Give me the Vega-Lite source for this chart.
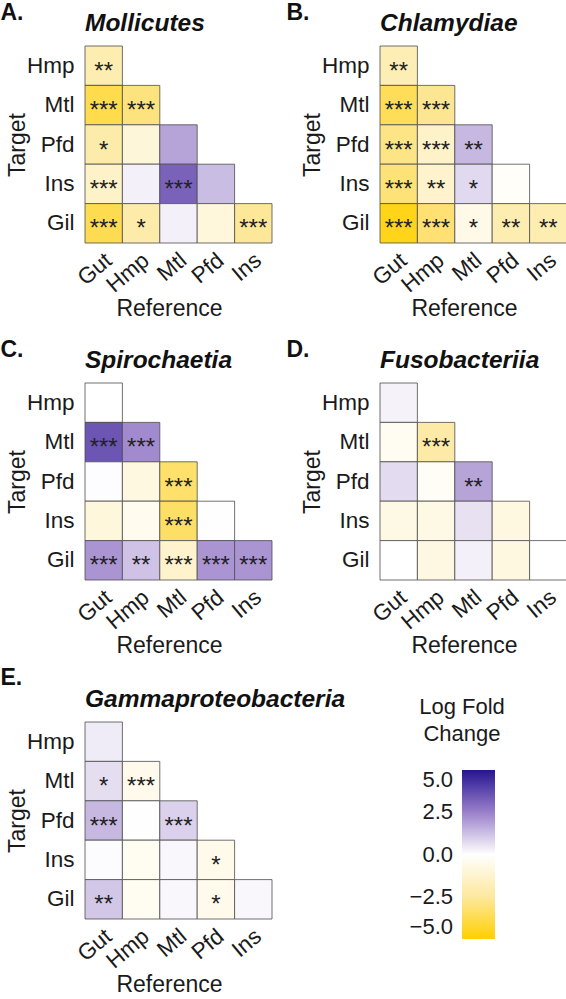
{
  "$schema": "https://vega.github.io/schema/vega-lite/v6.json",
  "background": "white",
  "padding": {"left": 0, "top": 2, "right": 0, "bottom": 0},
  "autosize": {"type": "pad"},
  "data": {"values": [
    {"p":"A","t":"Hmp","r":"Gut","v":-2.0,"s":"**"},
    {"p":"A","t":"Mtl","r":"Gut","v":-3.8,"s":"***"},
    {"p":"A","t":"Mtl","r":"Hmp","v":-3.0,"s":"***"},
    {"p":"A","t":"Pfd","r":"Gut","v":-2.2,"s":"*"},
    {"p":"A","t":"Pfd","r":"Hmp","v":-1.0,"s":""},
    {"p":"A","t":"Pfd","r":"Mtl","v":1.8,"s":""},
    {"p":"A","t":"Ins","r":"Gut","v":-1.4,"s":"***"},
    {"p":"A","t":"Ins","r":"Hmp","v":0.3,"s":""},
    {"p":"A","t":"Ins","r":"Mtl","v":3.2,"s":"***"},
    {"p":"A","t":"Ins","r":"Pfd","v":1.3,"s":""},
    {"p":"A","t":"Gil","r":"Gut","v":-3.7,"s":"***"},
    {"p":"A","t":"Gil","r":"Hmp","v":-2.2,"s":"*"},
    {"p":"A","t":"Gil","r":"Mtl","v":0.3,"s":""},
    {"p":"A","t":"Gil","r":"Pfd","v":-0.9,"s":""},
    {"p":"A","t":"Gil","r":"Ins","v":-2.6,"s":"***"},
    {"p":"B","t":"Hmp","r":"Gut","v":-1.9,"s":"**"},
    {"p":"B","t":"Mtl","r":"Gut","v":-3.6,"s":"***"},
    {"p":"B","t":"Mtl","r":"Hmp","v":-2.7,"s":"***"},
    {"p":"B","t":"Pfd","r":"Gut","v":-2.9,"s":"***"},
    {"p":"B","t":"Pfd","r":"Hmp","v":-1.4,"s":"***"},
    {"p":"B","t":"Pfd","r":"Mtl","v":1.4,"s":"**"},
    {"p":"B","t":"Ins","r":"Gut","v":-3.1,"s":"***"},
    {"p":"B","t":"Ins","r":"Hmp","v":-1.3,"s":"**"},
    {"p":"B","t":"Ins","r":"Mtl","v":0.75,"s":"*"},
    {"p":"B","t":"Ins","r":"Pfd","v":-0.15,"s":""},
    {"p":"B","t":"Gil","r":"Gut","v":-4.6,"s":"***"},
    {"p":"B","t":"Gil","r":"Hmp","v":-3.2,"s":"***"},
    {"p":"B","t":"Gil","r":"Mtl","v":-0.6,"s":"*"},
    {"p":"B","t":"Gil","r":"Pfd","v":-2.0,"s":"**"},
    {"p":"B","t":"Gil","r":"Ins","v":-2.0,"s":"**"},
    {"p":"C","t":"Hmp","r":"Gut","v":0.0,"s":""},
    {"p":"C","t":"Mtl","r":"Gut","v":3.5,"s":"***"},
    {"p":"C","t":"Mtl","r":"Hmp","v":2.3,"s":"***"},
    {"p":"C","t":"Pfd","r":"Gut","v":0.05,"s":""},
    {"p":"C","t":"Pfd","r":"Hmp","v":-0.8,"s":""},
    {"p":"C","t":"Pfd","r":"Mtl","v":-3.3,"s":"***"},
    {"p":"C","t":"Ins","r":"Gut","v":-0.9,"s":""},
    {"p":"C","t":"Ins","r":"Hmp","v":-0.4,"s":""},
    {"p":"C","t":"Ins","r":"Mtl","v":-3.4,"s":"***"},
    {"p":"C","t":"Ins","r":"Pfd","v":0.02,"s":""},
    {"p":"C","t":"Gil","r":"Gut","v":2.1,"s":"***"},
    {"p":"C","t":"Gil","r":"Hmp","v":1.2,"s":"**"},
    {"p":"C","t":"Gil","r":"Mtl","v":-1.3,"s":"***"},
    {"p":"C","t":"Gil","r":"Pfd","v":2.1,"s":"***"},
    {"p":"C","t":"Gil","r":"Ins","v":2.1,"s":"***"},
    {"p":"D","t":"Hmp","r":"Gut","v":0.25,"s":""},
    {"p":"D","t":"Mtl","r":"Gut","v":-0.35,"s":""},
    {"p":"D","t":"Mtl","r":"Hmp","v":-2.3,"s":"***"},
    {"p":"D","t":"Pfd","r":"Gut","v":0.7,"s":""},
    {"p":"D","t":"Pfd","r":"Hmp","v":-0.25,"s":""},
    {"p":"D","t":"Pfd","r":"Mtl","v":1.8,"s":"**"},
    {"p":"D","t":"Ins","r":"Gut","v":-0.7,"s":""},
    {"p":"D","t":"Ins","r":"Hmp","v":-0.7,"s":""},
    {"p":"D","t":"Ins","r":"Mtl","v":0.6,"s":""},
    {"p":"D","t":"Ins","r":"Pfd","v":-0.8,"s":""},
    {"p":"D","t":"Gil","r":"Gut","v":0.0,"s":""},
    {"p":"D","t":"Gil","r":"Hmp","v":-0.75,"s":""},
    {"p":"D","t":"Gil","r":"Mtl","v":0.3,"s":""},
    {"p":"D","t":"Gil","r":"Pfd","v":-0.8,"s":""},
    {"p":"D","t":"Gil","r":"Ins","v":0.0,"s":""},
    {"p":"E","t":"Hmp","r":"Gut","v":0.4,"s":""},
    {"p":"E","t":"Mtl","r":"Gut","v":0.65,"s":"*"},
    {"p":"E","t":"Mtl","r":"Hmp","v":-0.5,"s":"***"},
    {"p":"E","t":"Pfd","r":"Gut","v":1.4,"s":"***"},
    {"p":"E","t":"Pfd","r":"Hmp","v":0.02,"s":""},
    {"p":"E","t":"Pfd","r":"Mtl","v":0.9,"s":"***"},
    {"p":"E","t":"Ins","r":"Gut","v":0.08,"s":""},
    {"p":"E","t":"Ins","r":"Hmp","v":-0.35,"s":""},
    {"p":"E","t":"Ins","r":"Mtl","v":0.15,"s":""},
    {"p":"E","t":"Ins","r":"Pfd","v":-0.55,"s":"*"},
    {"p":"E","t":"Gil","r":"Gut","v":1.1,"s":"**"},
    {"p":"E","t":"Gil","r":"Hmp","v":-0.35,"s":""},
    {"p":"E","t":"Gil","r":"Mtl","v":0.15,"s":""},
    {"p":"E","t":"Gil","r":"Pfd","v":-0.5,"s":"*"},
    {"p":"E","t":"Gil","r":"Ins","v":0.15,"s":""}
  ]},
  "spacing": 9,
  "vconcat": [
  {
  "columns": 2,
  "spacing": {"row": 18, "column": 13},
  "concat": [
    {"title": {"text": "A.", "anchor": "start", "frame": "bounds", "dx": -6, "offset": -14, "fontSize": 23, "fontWeight": "bold"},
     "vconcat": [{
      "width": 187, "height": 197,
      "title": {"text": "Mollicutes", "anchor": "start", "frame": "group", "fontSize": 24.5, "fontStyle": "italic", "fontWeight": "bold", "offset": 9},
      "transform": [{"filter": "datum.p == 'A'"}],
      "encoding": {
        "x": {"field": "r", "type": "nominal", "scale": {"domain": ["Gut","Hmp","Mtl","Pfd","Ins"], "paddingInner": 0, "paddingOuter": 0}, "axis": {"title": "Reference", "labelAngle": -40, "labelAlign": "right", "labelBaseline": "middle", "labelPadding": 14, "labelOffset": 5, "titlePadding": 1, "titleX": 84}},
        "y": {"field": "t", "type": "nominal", "scale": {"domain": ["Hmp","Mtl","Pfd","Ins","Gil"], "paddingInner": 0, "paddingOuter": 0}, "axis": {"title": "Target", "labelPadding": 11, "titlePadding": -3}}
      },
      "layer": [
        {"mark": {"type": "rect", "stroke": "#4d4d4d", "strokeWidth": 0.8},
         "encoding": {"color": {"field": "v", "type": "quantitative", "scale": {"domain": [-5,-2.5,0,2.5,5], "range": ["#FFD000","#FDE89E","#FFFFFF","#9A80CA","#261591"], "interpolate": "rgb"},
           "legend": {"orient": "none", "legendX": 334, "legendY": 651, "direction": "vertical", "gradientLength": 169, "gradientThickness": 33, "values": [-5,-2.5,0,2.5,5], "format": ".1f", "labelOffset": -42, "labelFontSize": 22, "labelColor": "#1a1a1a", "labelOverlap": false, "title": ["Log Fold","Change"], "titleFontSize": 22, "titleFontWeight": "normal", "titleColor": "#1a1a1a", "titleAnchor": "middle", "titleAlign": "center", "titleLineHeight": 27, "titlePadding": 24, "gradientStrokeWidth": 0, "encode": {"labels": {"update": {"align": {"value": "right"}}}, "title": {"update": {"dx": {"value": -17}}}}}}}},
        {"mark": {"type": "text", "fontSize": 24, "baseline": "middle", "dy": 6, "color": "#222222"}, "encoding": {"text": {"field": "s"}}}
      ]
     }]
    },
    {"title": {"text": "B.", "anchor": "start", "frame": "bounds", "dx": -15, "offset": -14, "fontSize": 23, "fontWeight": "bold"},
     "vconcat": [{
      "width": 187, "height": 197,
      "title": {"text": "Chlamydiae", "anchor": "start", "frame": "group", "fontSize": 24.5, "fontStyle": "italic", "fontWeight": "bold", "offset": 9},
      "transform": [{"filter": "datum.p == 'B'"}],
      "encoding": {
        "x": {"field": "r", "type": "nominal", "scale": {"domain": ["Gut","Hmp","Mtl","Pfd","Ins"], "paddingInner": 0, "paddingOuter": 0}, "axis": {"title": "Reference", "labelAngle": -40, "labelAlign": "right", "labelBaseline": "middle", "labelPadding": 14, "labelOffset": 5, "titlePadding": 1, "titleX": 84}},
        "y": {"field": "t", "type": "nominal", "scale": {"domain": ["Hmp","Mtl","Pfd","Ins","Gil"], "paddingInner": 0, "paddingOuter": 0}, "axis": {"title": "Target", "labelPadding": 11, "titlePadding": -3}}
      },
      "layer": [
        {"mark": {"type": "rect", "stroke": "#4d4d4d", "strokeWidth": 0.8},
         "encoding": {"color": {"field": "v", "type": "quantitative", "scale": {"domain": [-5,-2.5,0,2.5,5], "range": ["#FFD000","#FDE89E","#FFFFFF","#9A80CA","#261591"], "interpolate": "rgb"},
           "legend": {"orient": "none", "legendX": 334, "legendY": 651, "direction": "vertical", "gradientLength": 169, "gradientThickness": 33, "values": [-5,-2.5,0,2.5,5], "format": ".1f", "labelOffset": -42, "labelFontSize": 22, "labelColor": "#1a1a1a", "labelOverlap": false, "title": ["Log Fold","Change"], "titleFontSize": 22, "titleFontWeight": "normal", "titleColor": "#1a1a1a", "titleAnchor": "middle", "titleAlign": "center", "titleLineHeight": 27, "titlePadding": 24, "gradientStrokeWidth": 0, "encode": {"labels": {"update": {"align": {"value": "right"}}}, "title": {"update": {"dx": {"value": -17}}}}}}}},
        {"mark": {"type": "text", "fontSize": 24, "baseline": "middle", "dy": 6, "color": "#222222"}, "encoding": {"text": {"field": "s"}}}
      ]
     }]
    },
    {"title": {"text": "C.", "anchor": "start", "frame": "bounds", "dx": -6, "offset": -14, "fontSize": 23, "fontWeight": "bold"},
     "vconcat": [{
      "width": 187, "height": 197,
      "title": {"text": "Spirochaetia", "anchor": "start", "frame": "group", "fontSize": 24.5, "fontStyle": "italic", "fontWeight": "bold", "offset": 9},
      "transform": [{"filter": "datum.p == 'C'"}],
      "encoding": {
        "x": {"field": "r", "type": "nominal", "scale": {"domain": ["Gut","Hmp","Mtl","Pfd","Ins"], "paddingInner": 0, "paddingOuter": 0}, "axis": {"title": "Reference", "labelAngle": -40, "labelAlign": "right", "labelBaseline": "middle", "labelPadding": 14, "labelOffset": 5, "titlePadding": 1, "titleX": 84}},
        "y": {"field": "t", "type": "nominal", "scale": {"domain": ["Hmp","Mtl","Pfd","Ins","Gil"], "paddingInner": 0, "paddingOuter": 0}, "axis": {"title": "Target", "labelPadding": 11, "titlePadding": -3}}
      },
      "layer": [
        {"mark": {"type": "rect", "stroke": "#4d4d4d", "strokeWidth": 0.8},
         "encoding": {"color": {"field": "v", "type": "quantitative", "scale": {"domain": [-5,-2.5,0,2.5,5], "range": ["#FFD000","#FDE89E","#FFFFFF","#9A80CA","#261591"], "interpolate": "rgb"},
           "legend": {"orient": "none", "legendX": 334, "legendY": 651, "direction": "vertical", "gradientLength": 169, "gradientThickness": 33, "values": [-5,-2.5,0,2.5,5], "format": ".1f", "labelOffset": -42, "labelFontSize": 22, "labelColor": "#1a1a1a", "labelOverlap": false, "title": ["Log Fold","Change"], "titleFontSize": 22, "titleFontWeight": "normal", "titleColor": "#1a1a1a", "titleAnchor": "middle", "titleAlign": "center", "titleLineHeight": 27, "titlePadding": 24, "gradientStrokeWidth": 0, "encode": {"labels": {"update": {"align": {"value": "right"}}}, "title": {"update": {"dx": {"value": -17}}}}}}}},
        {"mark": {"type": "text", "fontSize": 24, "baseline": "middle", "dy": 6, "color": "#222222"}, "encoding": {"text": {"field": "s"}}}
      ]
     }]
    },
    {"title": {"text": "D.", "anchor": "start", "frame": "bounds", "dx": -15, "offset": -14, "fontSize": 23, "fontWeight": "bold"},
     "vconcat": [{
      "width": 187, "height": 197,
      "title": {"text": "Fusobacteriia", "anchor": "start", "frame": "group", "fontSize": 24.5, "fontStyle": "italic", "fontWeight": "bold", "offset": 9},
      "transform": [{"filter": "datum.p == 'D'"}],
      "encoding": {
        "x": {"field": "r", "type": "nominal", "scale": {"domain": ["Gut","Hmp","Mtl","Pfd","Ins"], "paddingInner": 0, "paddingOuter": 0}, "axis": {"title": "Reference", "labelAngle": -40, "labelAlign": "right", "labelBaseline": "middle", "labelPadding": 14, "labelOffset": 5, "titlePadding": 1, "titleX": 84}},
        "y": {"field": "t", "type": "nominal", "scale": {"domain": ["Hmp","Mtl","Pfd","Ins","Gil"], "paddingInner": 0, "paddingOuter": 0}, "axis": {"title": "Target", "labelPadding": 11, "titlePadding": -3}}
      },
      "layer": [
        {"mark": {"type": "rect", "stroke": "#4d4d4d", "strokeWidth": 0.8},
         "encoding": {"color": {"field": "v", "type": "quantitative", "scale": {"domain": [-5,-2.5,0,2.5,5], "range": ["#FFD000","#FDE89E","#FFFFFF","#9A80CA","#261591"], "interpolate": "rgb"},
           "legend": {"orient": "none", "legendX": 334, "legendY": 651, "direction": "vertical", "gradientLength": 169, "gradientThickness": 33, "values": [-5,-2.5,0,2.5,5], "format": ".1f", "labelOffset": -42, "labelFontSize": 22, "labelColor": "#1a1a1a", "labelOverlap": false, "title": ["Log Fold","Change"], "titleFontSize": 22, "titleFontWeight": "normal", "titleColor": "#1a1a1a", "titleAnchor": "middle", "titleAlign": "center", "titleLineHeight": 27, "titlePadding": 24, "gradientStrokeWidth": 0, "encode": {"labels": {"update": {"align": {"value": "right"}}}, "title": {"update": {"dx": {"value": -17}}}}}}}},
        {"mark": {"type": "text", "fontSize": 24, "baseline": "middle", "dy": 6, "color": "#222222"}, "encoding": {"text": {"field": "s"}}}
      ]
     }]
    }
  ]
  },
    {"title": {"text": "E.", "anchor": "start", "frame": "bounds", "dx": -6, "offset": -3, "fontSize": 23, "fontWeight": "bold"},
     "vconcat": [{
      "width": 187, "height": 197,
      "title": {"text": "Gammaproteobacteria", "anchor": "start", "frame": "group", "fontSize": 24.5, "fontStyle": "italic", "fontWeight": "bold", "offset": 9},
      "transform": [{"filter": "datum.p == 'E'"}],
      "encoding": {
        "x": {"field": "r", "type": "nominal", "scale": {"domain": ["Gut","Hmp","Mtl","Pfd","Ins"], "paddingInner": 0, "paddingOuter": 0}, "axis": {"title": "Reference", "labelAngle": -40, "labelAlign": "right", "labelBaseline": "middle", "labelPadding": 14, "labelOffset": 5, "titlePadding": 1, "titleX": 84}},
        "y": {"field": "t", "type": "nominal", "scale": {"domain": ["Hmp","Mtl","Pfd","Ins","Gil"], "paddingInner": 0, "paddingOuter": 0}, "axis": {"title": "Target", "labelPadding": 11, "titlePadding": -3}}
      },
      "layer": [
        {"mark": {"type": "rect", "stroke": "#4d4d4d", "strokeWidth": 0.8},
         "encoding": {"color": {"field": "v", "type": "quantitative", "scale": {"domain": [-5,-2.5,0,2.5,5], "range": ["#FFD000","#FDE89E","#FFFFFF","#9A80CA","#261591"], "interpolate": "rgb"},
           "legend": {"orient": "none", "legendX": 334, "legendY": 651, "direction": "vertical", "gradientLength": 169, "gradientThickness": 33, "values": [-5,-2.5,0,2.5,5], "format": ".1f", "labelOffset": -42, "labelFontSize": 22, "labelColor": "#1a1a1a", "labelOverlap": false, "title": ["Log Fold","Change"], "titleFontSize": 22, "titleFontWeight": "normal", "titleColor": "#1a1a1a", "titleAnchor": "middle", "titleAlign": "center", "titleLineHeight": 27, "titlePadding": 24, "gradientStrokeWidth": 0, "encode": {"labels": {"update": {"align": {"value": "right"}}}, "title": {"update": {"dx": {"value": -17}}}}}}}},
        {"mark": {"type": "text", "fontSize": 24, "baseline": "middle", "dy": 6, "color": "#222222"}, "encoding": {"text": {"field": "s"}}}
      ]
     }]
    }
  ],
  "config": {
    "font": "Liberation Sans",
    "view": {"stroke": null},
    "axis": {"labelFont": "Liberation Sans", "titleFont": "Liberation Sans", "labelFontSize": 22.5, "titleFontSize": 23, "titleFontWeight": "normal", "labelColor": "#1a1a1a", "titleColor": "#1a1a1a", "domain": false, "ticks": false},
    "legend": {"labelFont": "Liberation Sans", "titleFont": "Liberation Sans"},
    "title": {"font": "Liberation Sans", "color": "#111111"}
  }
}
